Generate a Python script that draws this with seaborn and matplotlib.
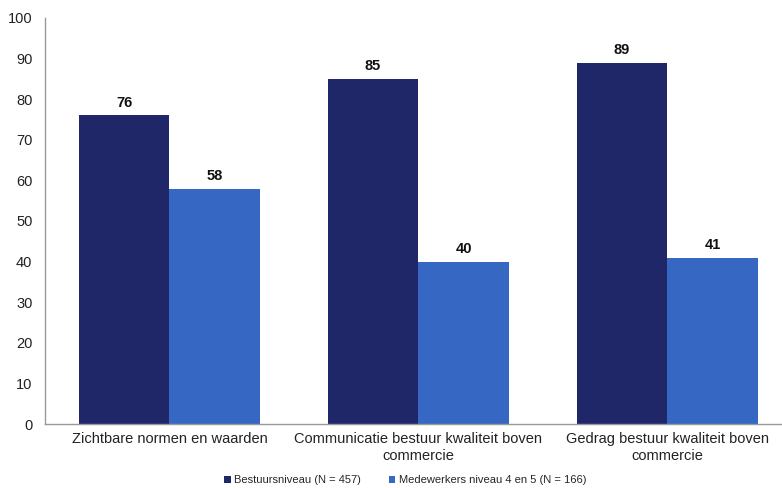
import matplotlib
matplotlib.use("Agg")
import matplotlib.pyplot as plt
import seaborn as sns
import pandas as pd
from matplotlib.patches import Patch

categories = [
    "Zichtbare normen en waarden",
    "Communicatie bestuur kwaliteit boven\ncommercie",
    "Gedrag bestuur kwaliteit boven\ncommercie",
]
series_names = ["Bestuursniveau (N = 457)", "Medewerkers niveau 4 en 5 (N = 166)"]
bestuur = [76, 85, 89]
medewerkers = [58, 40, 41]
colors = ["#1f2768", "#3667c2"]

df = pd.DataFrame({
    "categorie": categories * 2,
    "groep": [series_names[0]] * 3 + [series_names[1]] * 3,
    "waarde": bestuur + medewerkers,
})

sns.set_style("white")
plt.rcParams["font.family"] = ["Liberation Sans", "DejaVu Sans"]

fig = plt.figure(figsize=(7.82, 4.88), dpi=100)
ax = fig.add_axes([45 / 782, 64 / 488, 747 / 782, 406 / 488])

sns.barplot(data=df, x="categorie", y="waarde", hue="groep",
            palette=colors, width=0.73, saturation=1, ax=ax, legend=False,
            linewidth=0, edgecolor="none")

for container in ax.containers:
    ax.bar_label(container, fmt="%d", padding=4, fontsize=10.5,
                 fontweight="bold", color="#111111")

ax.set_xlim(-0.5, 2.5)
ax.set_ylim(0, 100)
ax.set_yticks(range(0, 101, 10))
ax.tick_params(axis="y", labelsize=10.5, length=0, pad=9, colors="#222222")
ax.tick_params(axis="x", labelsize=10.5, length=0, pad=6, colors="#222222")
ax.set_xlabel("")
ax.set_ylabel("")
for side in ["top", "right"]:
    ax.spines[side].set_visible(False)
for side in ["left", "bottom"]:
    ax.spines[side].set_color("#999999")
    ax.spines[side].set_linewidth(1.0)

handles = [Patch(facecolor=c, edgecolor="none") for c in colors]
fig.legend(handles, series_names, loc="center", bbox_to_anchor=(405 / 782, 1 - 480 / 488),
           ncol=2, frameon=False, fontsize=8, handlelength=0.6, handleheight=0.6,
           handletextpad=0.3, columnspacing=2.5)

fig.savefig("out.png", dpi=100, facecolor="white")
